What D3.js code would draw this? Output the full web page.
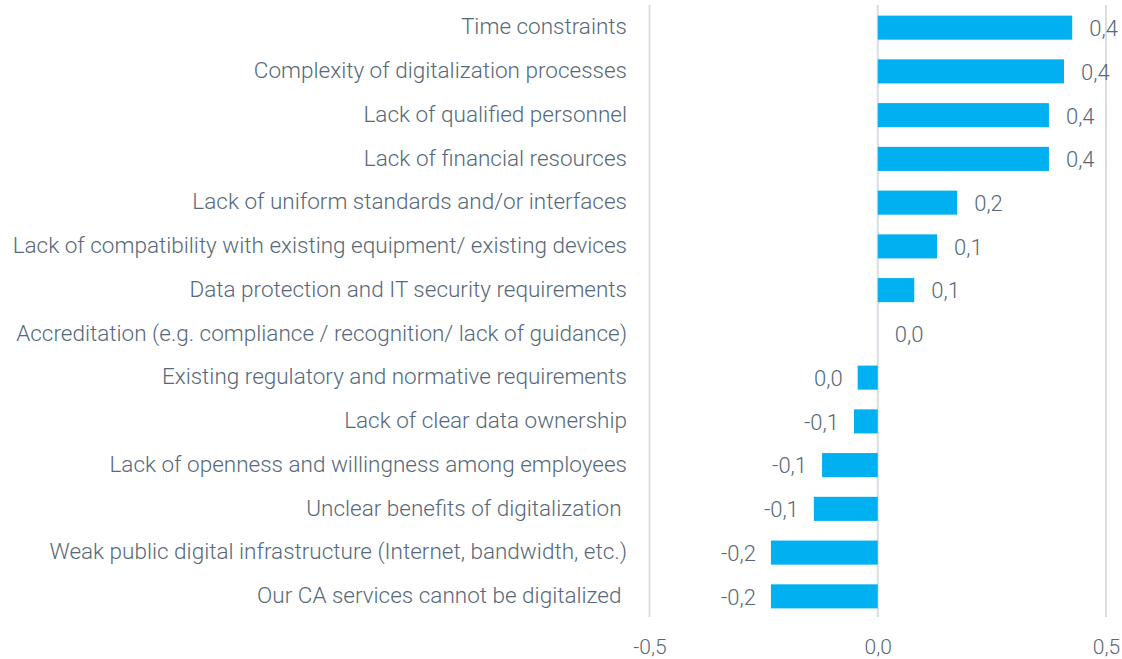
<!DOCTYPE html>
<html>
<head>
<meta charset="utf-8">
<script src="https://cdn.jsdelivr.net/npm/d3@7"></script>
<style>
  body { margin: 0; background: #fff; }
  text { font-family: Roboto, "Open Sans", sans-serif; font-weight: 300; fill: #56697a; white-space: pre; }
</style>
</head>
<body>
<div id="chart"></div>
<script>
// chart size
var w = 1122;
var h = 659;

// the data, top to bottom
var categories = [
  "Time constraints",
  "Complexity of digitalization processes",
  "Lack of qualified personnel",
  "Lack of financial resources",
  "Lack of uniform standards and/or interfaces",
  "Lack of compatibility with existing equipment/ existing devices",
  "Data protection and IT security requirements",
  "Accreditation (e.g. compliance / recognition/ lack of guidance)",
  "Existing regulatory and normative requirements",
  "Lack of clear data ownership",
  "Lack of openness and willingness among employees",
  "Unclear benefits of digitalization ",
  "Weak public digital infrastructure (Internet, bandwidth, etc.)",
  "Our CA services cannot be digitalized "
];
var values = [0.426, 0.408, 0.375, 0.375, 0.174, 0.130, 0.080, 0.0, -0.044, -0.052, -0.122, -0.140, -0.234, -0.234];
var xTicks = [-0.5, 0, 0.5];

var svg = d3.select("#chart").append("svg")
  .attr("width", w)
  .attr("height", h);

var xScale = d3.scaleLinear()
  .domain([-0.5, 0.5])
  .range([649.5, 1106]);

var yScale = d3.scaleBand()
  .domain(categories)
  .range([6, 618])
  .paddingInner(0.45)
  .paddingOuter(0.22);

// comma decimal, one digit
function fmt(v) {
  var r = Math.round(v * 10) / 10;
  if (r === 0) return "0,0";
  return r.toFixed(1).replace(".", ",");
}

// vertical gridlines
svg.selectAll(".grid")
  .data(xTicks)
  .enter()
  .append("line")
  .attr("x1", function(d) { return xScale(d); })
  .attr("x2", function(d) { return xScale(d); })
  .attr("y1", 5)
  .attr("y2", 617)
  .attr("stroke", "#d9dee3")
  .attr("stroke-width", 2);

// bars
svg.selectAll(".bar")
  .data(values)
  .enter()
  .append("rect")
  .attr("x", function(d) { return xScale(Math.min(0, d)); })
  .attr("y", function(d, i) { return yScale(categories[i]); })
  .attr("width", function(d) { return Math.abs(xScale(d) - xScale(0)); })
  .attr("height", yScale.bandwidth())
  .attr("fill", "#00b0f0");

// value labels
svg.selectAll(".val")
  .data(values)
  .enter()
  .append("text")
  .attr("x", function(d) { return d < 0 ? xScale(d) - 15 : xScale(d) + 17; })
  .attr("y", function(d, i) { return yScale(categories[i]) + yScale.bandwidth() / 2; })
  .attr("dy", "0.38em")
  .attr("text-anchor", function(d) { return d < 0 ? "end" : "start"; })
  .style("font-size", "22px")
  .text(function(d) { return fmt(d); });

// category labels
var yAxis = d3.axisLeft(yScale).tickSize(0).tickPadding(0);
var gy = svg.append("g")
  .attr("transform", "translate(627,0)")
  .call(yAxis);
gy.select(".domain").remove();
gy.selectAll("text")
  .attr("fill", null)
  .style("font-size", "22.5px")
  .attr("dy", "0.3em");

// x axis labels
var xAxis = d3.axisBottom(xScale).tickValues(xTicks).tickSize(0).tickPadding(0).tickFormat(fmt);
var gx = svg.append("g")
  .attr("transform", "translate(0,639)")
  .call(xAxis);
gx.select(".domain").remove();
gx.selectAll("text")
  .attr("fill", null)
  .style("font-size", "21px");
</script>
</body>
</html>
